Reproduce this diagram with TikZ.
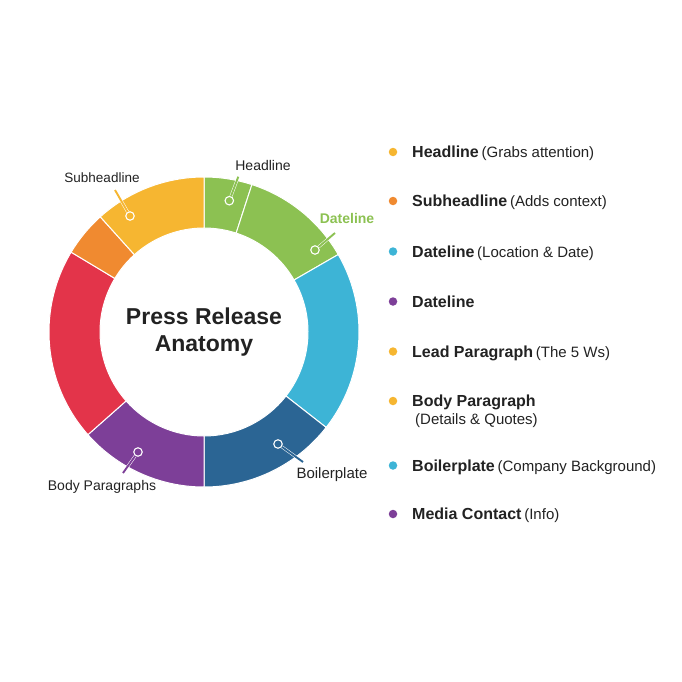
\documentclass[tikz,border=0pt]{standalone}
\usepackage{fontspec}
\setmainfont{Liberation Sans}
\definecolor{hlYellow}{HTML}{F6B631}
\definecolor{hlOrange}{HTML}{F08A30}
\definecolor{hlRed}{HTML}{E3344A}
\definecolor{hlPurple}{HTML}{7D3F98}
\definecolor{hlNavy}{HTML}{2B6594}
\definecolor{hlBlue}{HTML}{3DB4D6}
\definecolor{hlGreen}{HTML}{8CC152}
\definecolor{hlText}{HTML}{222222}

\begin{document}
\begin{tikzpicture}[x=1pt, y=1pt, every node/.style={inner sep=0.001, text=hlText},
    seg/.style={fill=#1, draw=white, line width=1pt},
    lead/.style={draw=white, line width=0.5pt, double=#1, double distance=1.9pt},
    pin/.style={circle, fill=#1, draw=white, line width=1.1pt, minimum size=8.5pt},
    tag/.style={font=\fontsize{14}{16}\selectfont},
    bullet/.style={circle, fill=#1, minimum size=8.5pt}]
  \useasboundingbox (0,0) rectangle (682,-682);

  % Ring segments
  \begin{scope}[shift={(204,-332)}]
    \foreach \a/\b/\c in {72/90/hlGreen, 30/72/hlGreen, -38/30/hlBlue, -90/-38/hlNavy,
      -138.5/-90/hlPurple, 149/221.5/hlRed, 132/149/hlOrange, 90/132/hlYellow} {
      \draw[seg=\c] (\a:155) arc (\a:\b:155) -- (\b:104) arc (\b:\a:104) -- cycle;
    }
  \end{scope}

  \node[align=center, font=\fontsize{23}{27}\selectfont\bfseries] (title) at (204,-332)
    {Press Release\\Anatomy};

  % Ring labels
  \node[tag] (hl) at (263,-165) {Headline};
  \node[tag, font=\fontsize{13.5}{16}\selectfont] (sub) at (102,-178) {Subheadline};
  \node[tag, text=hlGreen, font=\fontsize{14}{16}\selectfont\bfseries] (date) at (347,-218) {Dateline};
  \node[tag, font=\fontsize{15}{17}\selectfont] (boil) at (332,-475) {Boilerplate};
  \node[tag] (body) at (102,-487) {Body Paragraphs};

  % Leader lines
  \foreach \name/\px/\py/\qx/\qy/\c in {hl/229.3/200.7/238.3/176.7/hlGreen,
      sub/130/216/115/190/hlYellow, date/315/250/335/233/hlGreen,
      boil/278/444/303/462/hlNavy, body/138/452/123/473/hlPurple} {
    \node[pin=\c] (\name pin) at (\px,-\py) {};
    \coordinate (\name end) at (\qx,-\qy);
    \draw[lead=\c] (\name pin) -- (\name end);
  }

  % Legend
  \foreach \y/\c/\key/\note [count=\n] in {152/hlYellow/Headline/(Grabs attention),
      201/hlOrange/Subheadline/(Adds context), 251.5/hlBlue/Dateline/(Location \& Date),
      301.5/hlPurple/Dateline/, 351.5/hlYellow/Lead Paragraph/(The 5 Ws),
      401/hlYellow/Body Paragraph/, 465.5/hlBlue/Boilerplate/(Company Background),
      514/hlPurple/Media Contact/(Info)} {
    \node[bullet=\c] (dot\n) at (393,-\y) {};
    \node[anchor=base west] (item\n) at (412,-\y-5.5)
      {{\fontsize{16}{18}\selectfont\bfseries \key} {\fontsize{15}{17}\selectfont \note}};
  }
  \node[anchor=base west, font=\fontsize{15}{17}\selectfont] (item6b) at (415,-424.5)
    {(Details \& Quotes)};
\end{tikzpicture}
\end{document}
